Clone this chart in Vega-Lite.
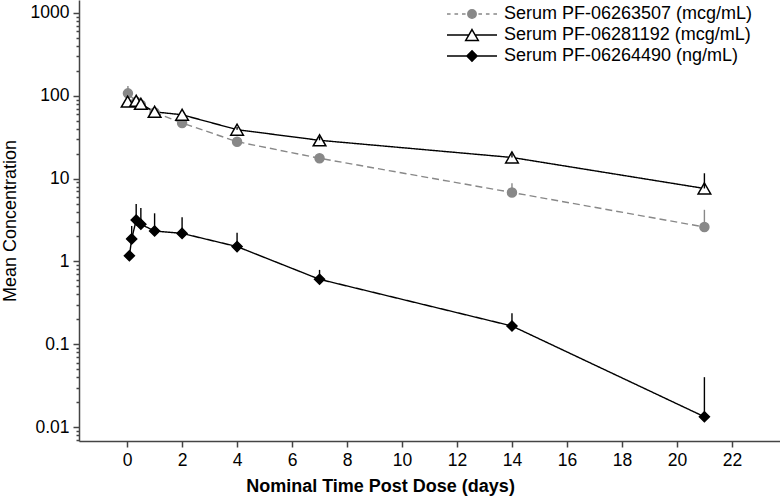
{
  "$schema": "https://vega.github.io/schema/vega-lite/v6.json",
  "width": 701,
  "height": 441,
  "autosize": {"type": "none"},
  "padding": {"left": 79, "top": 0, "right": 0, "bottom": 56},
  "background": "white",
  "config": {"view": {"stroke": null}, "font": "Liberation Sans"},
  "data": {
    "values": [
      {"series": "Serum PF-06263507 (mcg/mL)", "t": 0.03, "mean": 107, "upper": 131},
      {"series": "Serum PF-06263507 (mcg/mL)", "t": 0.33, "mean": 85, "upper": null},
      {"series": "Serum PF-06263507 (mcg/mL)", "t": 0.5, "mean": 78, "upper": null},
      {"series": "Serum PF-06263507 (mcg/mL)", "t": 1, "mean": 63, "upper": null},
      {"series": "Serum PF-06263507 (mcg/mL)", "t": 2, "mean": 47, "upper": null},
      {"series": "Serum PF-06263507 (mcg/mL)", "t": 4, "mean": 27.9, "upper": 30},
      {"series": "Serum PF-06263507 (mcg/mL)", "t": 7, "mean": 17.6, "upper": 19.5},
      {"series": "Serum PF-06263507 (mcg/mL)", "t": 14, "mean": 6.8, "upper": 8.8},
      {"series": "Serum PF-06263507 (mcg/mL)", "t": 21, "mean": 2.6, "upper": 4.2},
      {"series": "Serum PF-06281192 (mcg/mL)", "t": 0.02, "mean": 85, "upper": null},
      {"series": "Serum PF-06281192 (mcg/mL)", "t": 0.33, "mean": 87, "upper": null},
      {"series": "Serum PF-06281192 (mcg/mL)", "t": 0.5, "mean": 80, "upper": null},
      {"series": "Serum PF-06281192 (mcg/mL)", "t": 1, "mean": 64, "upper": null},
      {"series": "Serum PF-06281192 (mcg/mL)", "t": 2, "mean": 59, "upper": null},
      {"series": "Serum PF-06281192 (mcg/mL)", "t": 4, "mean": 39, "upper": 42},
      {"series": "Serum PF-06281192 (mcg/mL)", "t": 7, "mean": 29, "upper": 32},
      {"series": "Serum PF-06281192 (mcg/mL)", "t": 14, "mean": 18, "upper": 20},
      {"series": "Serum PF-06281192 (mcg/mL)", "t": 21, "mean": 7.6, "upper": 11.6},
      {"series": "Serum PF-06264490 (ng/mL)", "t": 0.083, "mean": 1.17, "upper": null},
      {"series": "Serum PF-06264490 (ng/mL)", "t": 0.167, "mean": 1.87, "upper": 2.68},
      {"series": "Serum PF-06264490 (ng/mL)", "t": 0.33, "mean": 3.16, "upper": 4.93},
      {"series": "Serum PF-06264490 (ng/mL)", "t": 0.5, "mean": 2.81, "upper": 4.42},
      {"series": "Serum PF-06264490 (ng/mL)", "t": 1, "mean": 2.33, "upper": 3.81},
      {"series": "Serum PF-06264490 (ng/mL)", "t": 2, "mean": 2.18, "upper": 3.41},
      {"series": "Serum PF-06264490 (ng/mL)", "t": 4, "mean": 1.51, "upper": 2.22},
      {"series": "Serum PF-06264490 (ng/mL)", "t": 7, "mean": 0.608, "upper": 0.79},
      {"series": "Serum PF-06264490 (ng/mL)", "t": 14, "mean": 0.166, "upper": 0.236},
      {"series": "Serum PF-06264490 (ng/mL)", "t": 21, "mean": 0.0133, "upper": 0.04}
    ]
  },
  "encoding": {
    "x": {
      "field": "t",
      "type": "quantitative",
      "scale": {"domain": [-1.75, 23.75], "nice": false, "zero": false},
      "axis": {
        "values": [0, 2, 4, 6, 8, 10, 12, 14, 16, 18, 20, 22],
        "title": "Nominal Time Post Dose (days)",
        "titleFont": "Liberation Sans",
        "titleFontWeight": "bold",
        "titleFontSize": 18,
        "titleColor": "#000000",
        "titlePadding": 9,
        "titleX": 301,
        "titleAlign": "center",
        "labelFont": "Liberation Sans",
        "labelFontSize": 17.5,
        "labelColor": "#000000",
        "labelPadding": 4,
        "tickSize": 6,
        "tickWidth": 1.5,
        "tickColor": "#444444",
        "domainColor": "#444444",
        "domainWidth": 1.5,
        "grid": false
      }
    },
    "y": {
      "field": "mean",
      "type": "quantitative",
      "scale": {"type": "log", "domain": [0.00678, 1435], "nice": false},
      "axis": {
        "values": [0.007, 0.008, 0.009, 0.01, 0.02, 0.03, 0.04, 0.05, 0.06, 0.07, 0.08, 0.09, 0.1, 0.2, 0.3, 0.4, 0.5, 0.6, 0.7, 0.8, 0.9, 1, 2, 3, 4, 5, 6, 7, 8, 9, 10, 20, 30, 40, 50, 60, 70, 80, 90, 100, 200, 300, 400, 500, 600, 700, 800, 900, 1000],
        "format": "~g",
        "labelExpr": "abs(log(datum.value)/LN10 - round(log(datum.value)/LN10)) < 0.000001 ? datum.label : ''",
        "tickSize": {"condition": {"test": "abs(log(datum.value)/LN10 - round(log(datum.value)/LN10)) < 0.000001", "value": 6}, "value": 3},
        "title": "Mean Concentration",
        "titleFont": "Liberation Sans",
        "titleFontWeight": "normal",
        "titleFontSize": 18,
        "titleColor": "#000000",
        "titlePadding": 11,
        "labelFont": "Liberation Sans",
        "labelFontSize": 17.5,
        "labelColor": "#000000",
        "labelPadding": 4,
        "tickWidth": 1.5,
        "tickColor": "#444444",
        "domainColor": "#444444",
        "domainWidth": 1.5,
        "grid": false
      }
    }
  },
  "layer": [
    {
      "mark": {"type": "line", "strokeWidth": 1.4},
      "encoding": {
        "detail": {"field": "series", "type": "nominal"},
        "stroke": {"condition": {"test": "datum.series === 'Serum PF-06263507 (mcg/mL)'", "value": "#888888"}, "value": "#000000"},
        "strokeDash": {"condition": {"test": "datum.series === 'Serum PF-06263507 (mcg/mL)'", "value": [7, 4]}, "value": [1, 0]}
      }
    },
    {
      "mark": {"type": "point", "filled": true, "strokeWidth": 1.5, "opacity": 1},
      "encoding": {
        "stroke": {"condition": {"test": "datum.series === 'Serum PF-06263507 (mcg/mL)'", "value": "#888888"}, "value": "#000000"},
        "shape": {"condition": [{"test": "datum.series === 'Serum PF-06263507 (mcg/mL)'", "value": "circle"}, {"test": "datum.series === 'Serum PF-06281192 (mcg/mL)'", "value": "triangle-up"}], "value": "diamond"},
        "size": {"condition": [{"test": "datum.series === 'Serum PF-06263507 (mcg/mL)'", "value": 81}, {"test": "datum.series === 'Serum PF-06281192 (mcg/mL)'", "value": 160}], "value": 100},
        "fill": {
          "field": "series",
          "type": "nominal",
          "scale": {"domain": ["Serum PF-06263507 (mcg/mL)", "Serum PF-06281192 (mcg/mL)", "Serum PF-06264490 (ng/mL)"], "range": ["#888888", "#ffffff", "#000000"]},
          "legend": {
            "title": null,
            "orient": "none",
            "legendX": 384,
            "legendY": 5,
            "labelFont": "Liberation Sans",
            "labelFontSize": 18,
            "labelColor": "#000000",
            "labelLimit": 0,
            "symbolSize": 144,
            "symbolOpacity": 1,
            "labelOffset": 23,
            "rowPadding": 3,
            "padding": 0,
            "symbolStrokeWidth": 1.5
          }
        }
      }
    },
    {
      "transform": [{"filter": "datum.upper != null"}],
      "mark": {"type": "rule", "strokeWidth": 1.4},
      "encoding": {
        "y2": {"field": "upper"},
        "stroke": {"condition": {"test": "datum.series === 'Serum PF-06263507 (mcg/mL)'", "value": "#888888"}, "value": "#000000"}
      }
    },
    {
      "mark": {"type": "point", "filled": true, "opacity": 0, "strokeWidth": 1.5},
      "encoding": {
        "fill": {"field": "series", "type": "nominal"},
        "stroke": {
          "field": "series",
          "type": "nominal",
          "scale": {"domain": ["Serum PF-06263507 (mcg/mL)", "Serum PF-06281192 (mcg/mL)", "Serum PF-06264490 (ng/mL)"], "range": ["#888888", "#000000", "#000000"]}
        },
        "shape": {
          "field": "series",
          "type": "nominal",
          "scale": {"domain": ["Serum PF-06263507 (mcg/mL)", "Serum PF-06281192 (mcg/mL)", "Serum PF-06264490 (ng/mL)"], "range": ["M-4.17,0H-3.57M-2.92,0H-2.32M-1.67,0H-1.07M1.07,0H1.67M2.32,0H2.92M3.57,0H4.17M-0.7,0A0.7,0.7 0 1,0 0.7,0A0.7,0.7 0 1,0 -0.7,0Z", "M-4.17,0H-0.53M0.53,0H4.17M0,-0.91L1.05,0.91L-1.05,0.91Z", "M-4.17,0H-0.85M0.85,0H4.17M0,-0.85L0.85,0L0,0.85L-0.85,0Z"]},
          "legend": {
            "title": null,
            "orient": "none",
            "legendX": 384,
            "legendY": 5,
            "labelFont": "Liberation Sans",
            "labelFontSize": 18,
            "labelColor": "#000000",
            "labelLimit": 0,
            "symbolSize": 144,
            "symbolOpacity": 1,
            "labelOffset": 23,
            "rowPadding": 3,
            "padding": 0,
            "symbolStrokeWidth": 1.5
          }
        }
      }
    }
  ]
}
